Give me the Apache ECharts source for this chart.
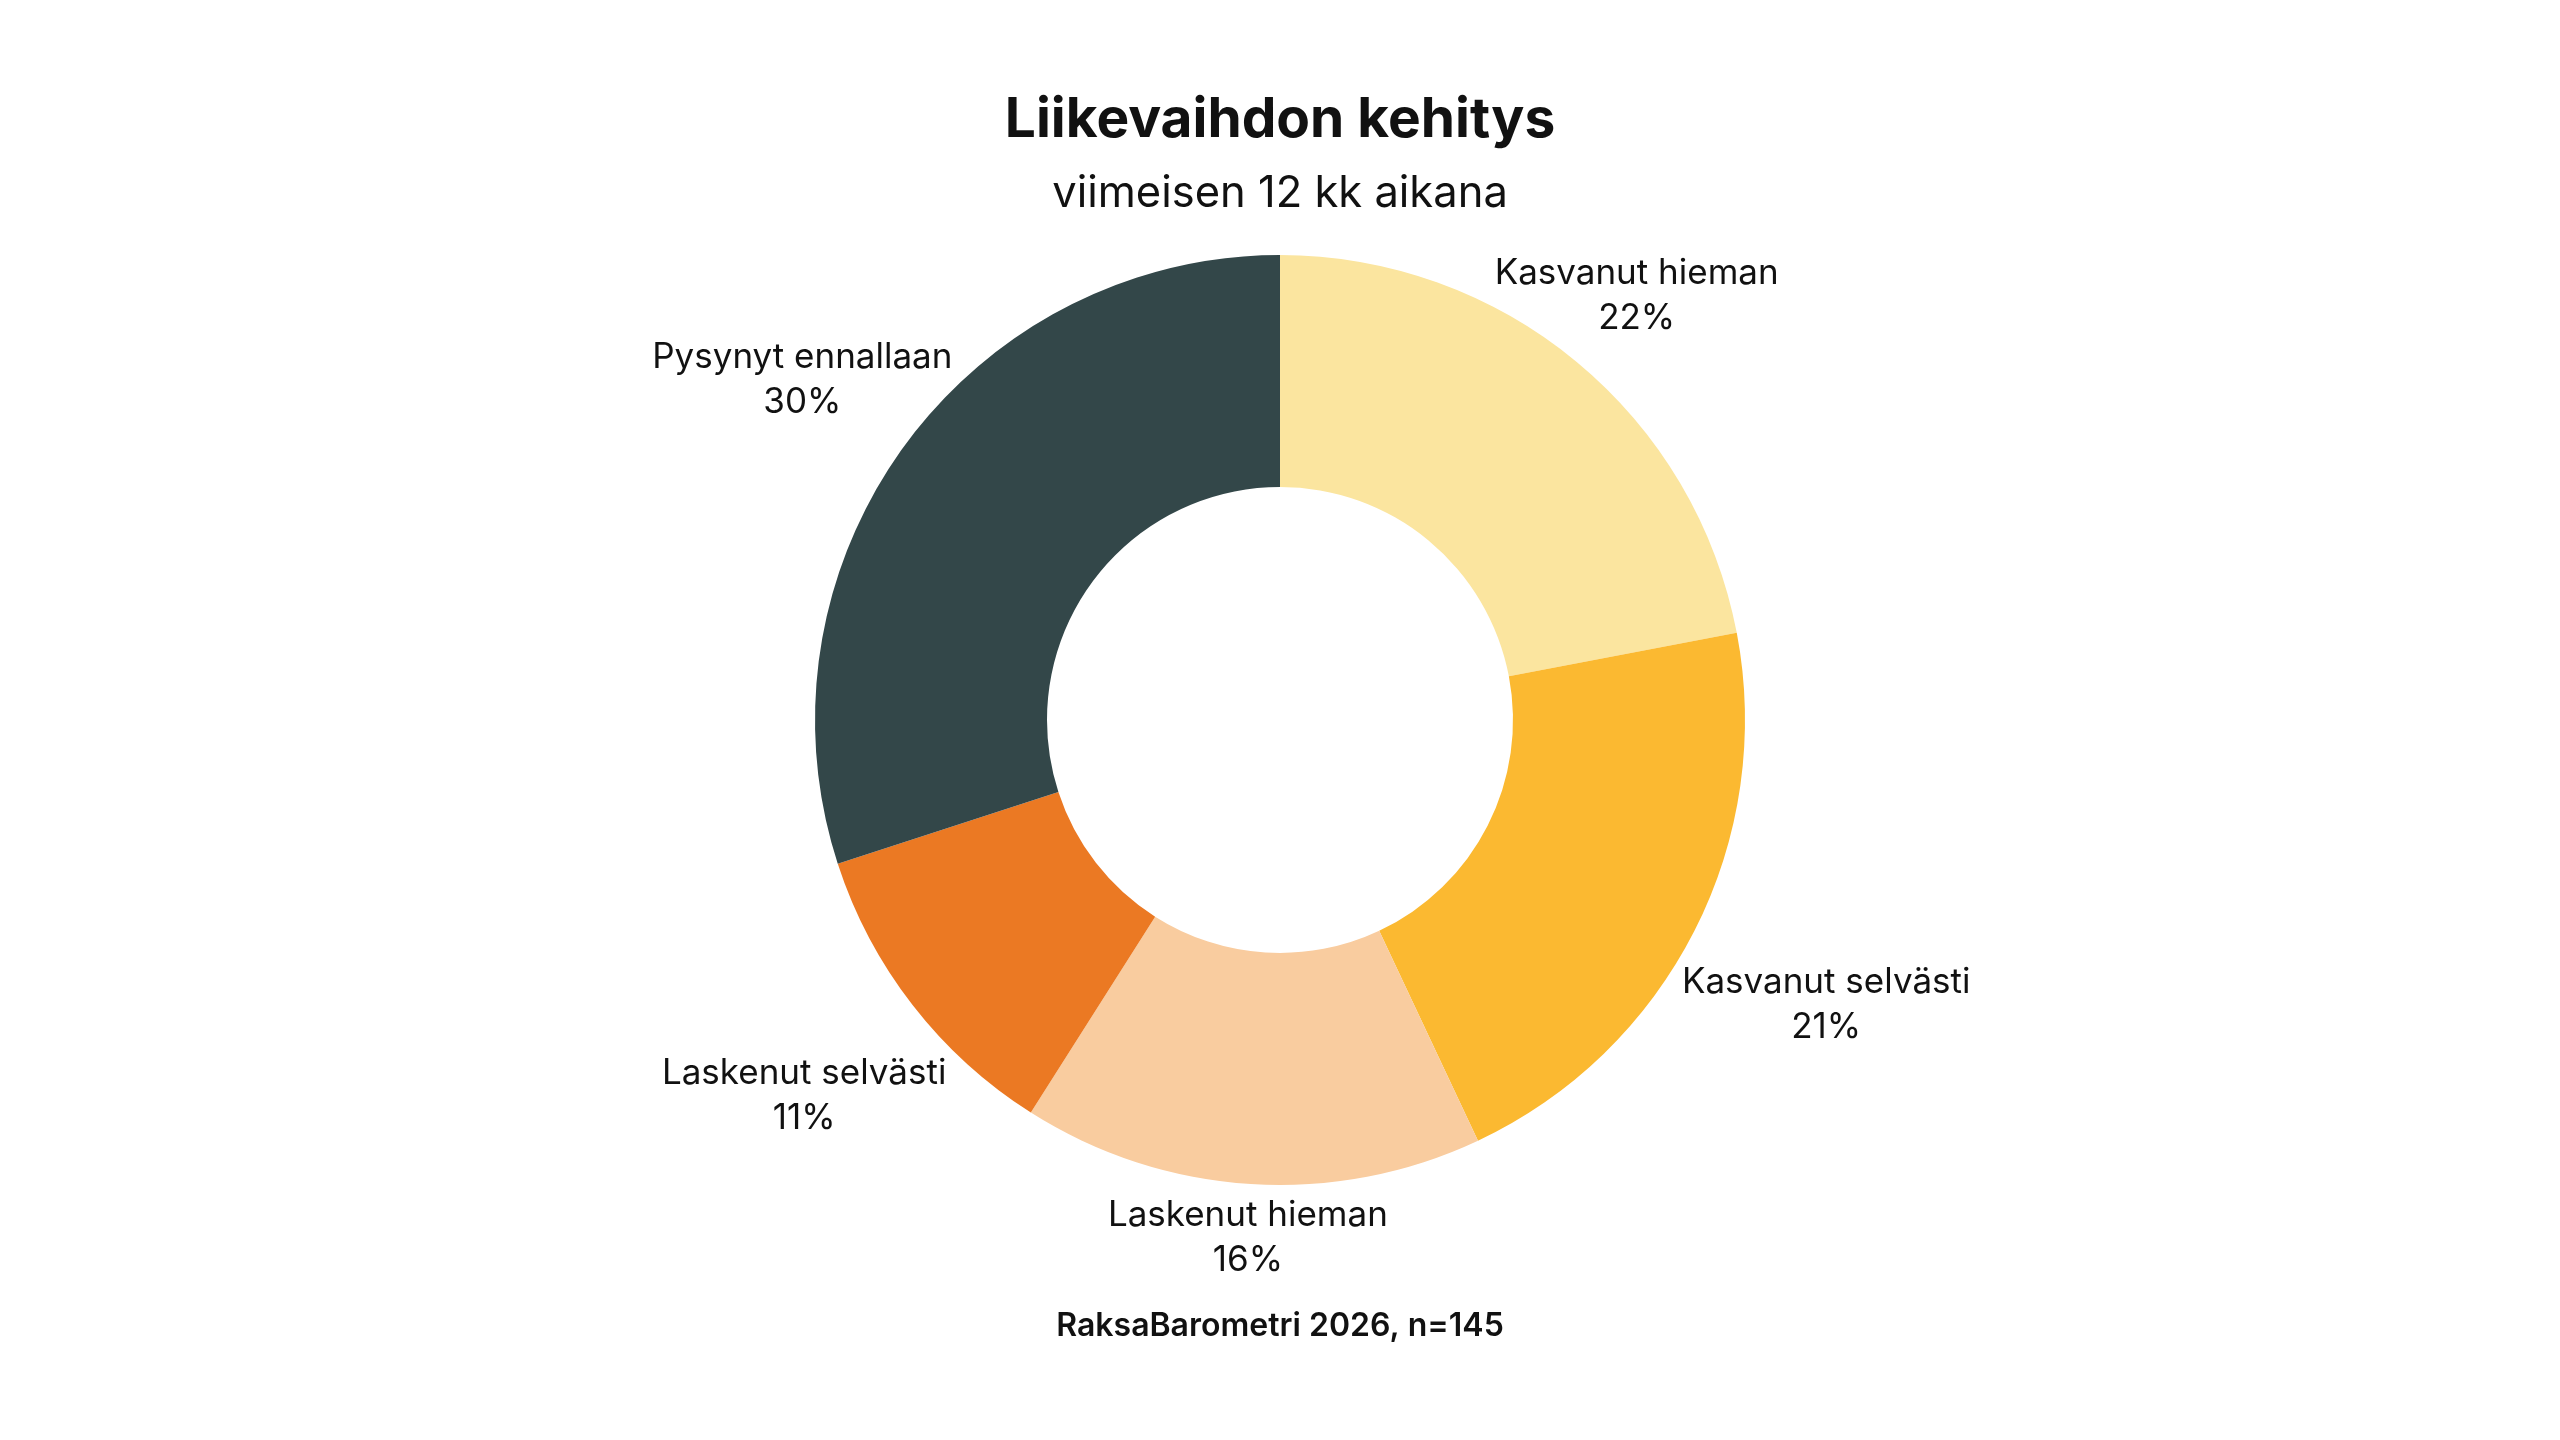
<!DOCTYPE html>
<html>
<head>
<meta charset="utf-8">
<script src="https://cdn.jsdelivr.net/npm/echarts/dist/echarts.min.js"></script>
<style>
html,body{margin:0;padding:0;background:#ffffff;}
#chart{width:2560px;height:1440px;}
</style>
</head>
<body>
<div id="chart"></div>
<script>
const categories = ['Kasvanut hieman', 'Kasvanut selvästi', 'Laskenut hieman', 'Laskenut selvästi', 'Pysynyt ennallaan'];
const values = [22, 21, 16, 11, 30];
const colors = ['#FBE59F', '#FBB931', '#F9CC9F', '#EB7923', '#334749'];
const titleText = 'Liikevaihdon kehitys';
const subtitleText = 'viimeisen 12 kk aikana';
const footerText = 'RaksaBarometri 2026, n=145';

const FONT = 'Inter, "Noto Sans", sans-serif';
const LABEL_SIZE = 35;
const LABEL_LH = 45;
const R_OUT = 465;
const R_IN = 233;
const GAP = 4;
const LABEL_DY = 7;

const chart = echarts.init(document.getElementById('chart'), null, {renderer: 'canvas'});

const measureCtx = document.createElement('canvas').getContext('2d');
function textWidth(t) {
  measureCtx.font = LABEL_SIZE + 'px ' + FONT;
  return measureCtx.measureText(t).width;
}
const total = values.reduce((a, b) => a + b, 0);
function midAngle(i) {
  let s = 0;
  for (let k = 0; k < i; k++) s += values[k];
  return (s + values[i] / 2) / total * 2 * Math.PI;
}

const option = {
  backgroundColor: '#ffffff',
  animation: false,
  title: [
    {text: titleText, left: 'center', top: 88,
     textStyle: {fontFamily: FONT, fontSize: 55, fontWeight: 700, color: '#111111', lineHeight: 55}},
    {text: subtitleText, left: 'center', top: 167,
     textStyle: {fontFamily: FONT, fontSize: 43.5, fontWeight: 400, color: '#111111', lineHeight: 44}},
    {text: footerText, left: 'center', top: 1305,
     textStyle: {fontFamily: FONT, fontSize: 32, fontWeight: 600, color: '#111111', lineHeight: 32}}
  ],
  series: [{
    type: 'pie',
    center: ['50%', '50%'],
    radius: [R_IN, R_OUT],
    startAngle: 90,
    clockwise: true,
    avoidLabelOverlap: false,
    emphasis: {disabled: true},
    itemStyle: {borderWidth: 0},
    label: {
      show: true,
      position: 'outside',
      formatter: '{b}\n{c}%',
      fontFamily: FONT,
      fontSize: LABEL_SIZE,
      lineHeight: LABEL_LH,
      color: '#111111'
    },
    labelLine: {show: false},
    labelLayout: function (p) {
      const i = p.dataIndex;
      const a = midAngle(i);
      const ux = Math.sin(a), uy = -Math.cos(a);
      const vx = -ux, vy = -uy;
      const h = 34;
      const w1 = textWidth(categories[i]) / 2;
      const w2 = textWidth(values[i] + '%') / 2;
      const s1 = w1 * Math.abs(vx) + Math.max(-h * vy, 0);
      const s2 = w2 * Math.abs(vx) + Math.max(h * vy, 0);
      const D = R_OUT + GAP + Math.max(s1, s2);
      const cx = chart.getWidth() / 2, cy = chart.getHeight() / 2;
      return {x: cx + D * ux, y: cy + D * uy + LABEL_DY, align: 'center', verticalAlign: 'middle'};
    },
    data: categories.map((name, i) => ({name: name, value: values[i], itemStyle: {color: colors[i]}}))
  }]
};
chart.setOption(option);
</script>
</body>
</html>
